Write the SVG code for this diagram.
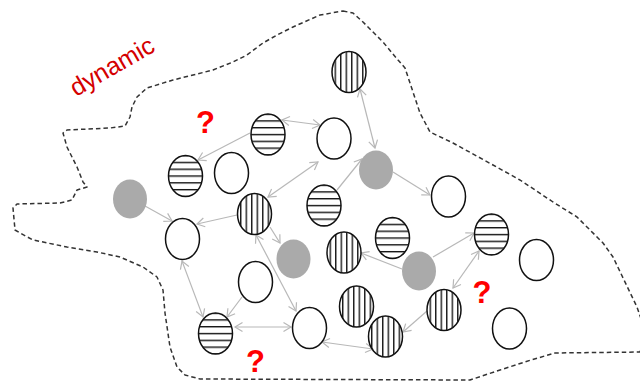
<svg xmlns="http://www.w3.org/2000/svg" width="640" height="382" viewBox="0 0 640 382">
<style>
.nd{stroke:#111;stroke-width:1.5}
.w{fill:#fff}
.h{fill:url(#hs)}
.v{fill:url(#vs)}
.g{fill:#aaaaaa;stroke:none}
.cn line{stroke:#b8b8b8;stroke-width:1.2;fill:none;marker-end:url(#ah)}
.cn line.d{marker-start:url(#ah)}
.q{font-family:"Liberation Sans",Arial,sans-serif;font-weight:bold;font-size:31px;fill:#ff0000;text-anchor:middle}
</style>
<defs>
<pattern id="hs" patternUnits="objectBoundingBox" patternContentUnits="objectBoundingBox" x="0" y="-0.0138" width="1" height="0.166">
<rect width="1" height="0.034" fill="#111"/>
</pattern>
<pattern id="vs" patternUnits="objectBoundingBox" patternContentUnits="objectBoundingBox" x="0.076" y="0" width="0.162" height="1">
<rect width="0.04" height="1" fill="#111"/>
</pattern>
<marker id="ah" viewBox="-9 -6 11 12" refX="0" refY="0" markerWidth="11" markerHeight="12" markerUnits="userSpaceOnUse" orient="auto-start-reverse">
<path d="M-7.5,-4.5 L0,0 L-7.5,4.5" fill="none" stroke="#b8b8b8" stroke-width="1.2"/>
</marker>
</defs>
<rect width="640" height="382" fill="#fff"/>
<path id="boundary" d="M343,11 L353,13 L363,22 L383,42 L398,60 L405,68 L410,83 L420,113 L430,132 L453,143 L493,165 L520,180 L553,202 L577,217 L603,243 L613,257 L637,307 L645,330 L640,352 L555,353 L531,360 L500,370 L470,380 L200,379 L185,375 L177,367 L170,347 L165,313 L163,290 L157,277 L143,267 L120,257 L97,252 L67,247 L33,240 L20,233 L15,230 L13,208 L17,204 L60,203 L72,200 L77,190 L87,187 L83,182 L77,167 L67,147 L63,133 L67,130 L110,128 L125,126 L130,117 L132,107 L137,97 L147,88 L173,80 L213,70 L233,62 L247,55 L263,43 L277,35 L293,27 L320,15 Z" fill="none" stroke="#333" stroke-width="1.5" stroke-dasharray="4.5 3" stroke-linejoin="round"/>
<g id="connectors" class="cn">
<line class="d" x1="360" y1="89" x2="375" y2="148"/>
<line class="d" x1="282" y1="120" x2="320" y2="125"/>
<line x1="250" y1="133" x2="198" y2="160"/>
<line class="d" x1="318" y1="162" x2="268" y2="197"/>
<line x1="237" y1="215" x2="197" y2="224"/>
<line x1="145" y1="206" x2="172" y2="221"/>
<line x1="270" y1="227" x2="280" y2="243"/>
<line class="d" x1="256" y1="235" x2="296" y2="311"/>
<line class="d" x1="182" y1="261" x2="203" y2="317"/>
<line x1="242" y1="297" x2="227" y2="317"/>
<line class="d" x1="235" y1="327" x2="291" y2="327"/>
<line class="d" x1="322" y1="342" x2="373" y2="349"/>
<line x1="427" y1="311" x2="403" y2="332"/>
<line x1="402" y1="269" x2="361" y2="253"/>
<line x1="433" y1="257" x2="474" y2="233"/>
<line class="d" x1="479" y1="251" x2="453" y2="288"/>
<line x1="337" y1="190" x2="362" y2="159"/>
<line x1="393" y1="172" x2="430" y2="195"/>
</g>
<g id="n1"><ellipse class="nd v" cx="349" cy="72" rx="17" ry="20.5"/></g>
<g id="n2"><ellipse class="nd h" cx="268" cy="134.5" rx="17" ry="20.5"/></g>
<g id="n3"><ellipse class="nd w" cx="334" cy="138.5" rx="17" ry="20.5"/></g>
<g id="n4"><ellipse class="nd h" cx="185.5" cy="176" rx="17" ry="20.5"/></g>
<g id="n5"><ellipse class="nd w" cx="231.5" cy="173" rx="17" ry="20.5"/></g>
<g id="n6"><ellipse class="g" cx="130" cy="199" rx="17" ry="19.5"/></g>
<g id="n7"><ellipse class="nd w" cx="182.5" cy="239" rx="17" ry="20.5"/></g>
<g id="n8"><ellipse class="nd v" cx="254.5" cy="214" rx="17" ry="20.5"/></g>
<g id="n9"><ellipse class="g" cx="293.5" cy="259" rx="17" ry="19.5"/></g>
<g id="n10"><ellipse class="nd w" cx="255.5" cy="282" rx="17" ry="20.5"/></g>
<g id="n11"><ellipse class="nd h" cx="215.5" cy="333.5" rx="17" ry="20.5"/></g>
<g id="n12"><ellipse class="nd w" cx="309.5" cy="328" rx="17" ry="20.5"/></g>
<g id="n13"><ellipse class="nd h" cx="324" cy="205.5" rx="17" ry="20.5"/></g>
<g id="n14"><ellipse class="g" cx="376" cy="170" rx="17" ry="19.5"/></g>
<g id="n15"><ellipse class="nd w" cx="448.5" cy="196.5" rx="17" ry="20.5"/></g>
<g id="n16"><ellipse class="nd h" cx="392.5" cy="238" rx="17" ry="20.5"/></g>
<g id="n17"><ellipse class="nd v" cx="344" cy="252.5" rx="17" ry="20.5"/></g>
<g id="n18"><ellipse class="g" cx="419" cy="271" rx="17" ry="19.5"/></g>
<g id="n19"><ellipse class="nd h" cx="491.5" cy="234.5" rx="17" ry="20.5"/></g>
<g id="n20"><ellipse class="nd w" cx="536.5" cy="260" rx="17" ry="20.5"/></g>
<g id="n21"><ellipse class="nd v" cx="356.5" cy="306.5" rx="17" ry="20.5"/></g>
<g id="n22"><ellipse class="nd v" cx="444" cy="310" rx="17" ry="20.5"/></g>
<g id="n23"><ellipse class="nd v" cx="385.5" cy="336.5" rx="17" ry="20.5"/></g>
<g id="n24"><ellipse class="nd w" cx="509.5" cy="328.5" rx="17" ry="20.5"/></g>
<g id="labels">
<text x="0" y="0" transform="translate(76,97) rotate(-30)" font-family="'Liberation Sans',Arial,sans-serif" font-size="25" fill="#d40000">dynamic</text>
<text class="q" x="205.5" y="133">?</text>
<text class="q" x="255.5" y="372">?</text>
<text class="q" x="482" y="303">?</text>
</g>
</svg>
